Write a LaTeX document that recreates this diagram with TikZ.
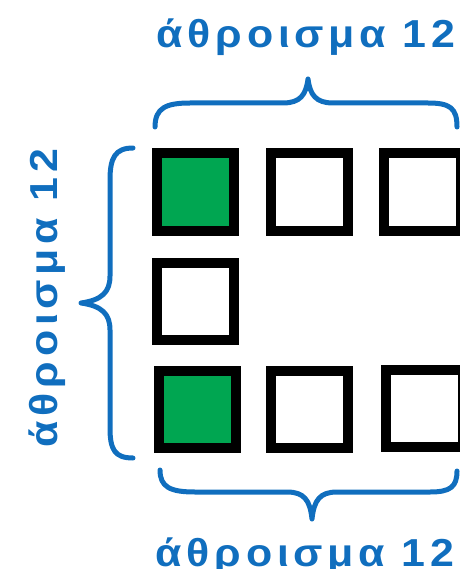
\documentclass[tikz,border=0pt]{standalone}
\usepackage{fontspec}
\newfontfamily\labfont[LetterSpace=11]{Liberation Sans}
\definecolor{bblue}{RGB}{16,110,190}
\definecolor{sgreen}{RGB}{0,166,81}
\tikzset{
  lab/.style={text=bblue, font=\labfont\bfseries\fontsize{39}{42}\selectfont, inner sep=0pt, anchor=base},
  cell/.style={draw=black, line width=10pt, minimum size=77pt, inner sep=0pt, fill=white},
  gcell/.style={cell, fill=sgreen},
  brace/.style={draw=bblue, line width=5pt, line cap=round, line join=round}
}
\begin{document}
\begin{tikzpicture}[x=1pt,y=-1pt]
\useasboundingbox (0,0) rectangle (459,569);
% cells
\node[gcell] (c11) at (195.5,192) {};
\node[cell]  (c12) at (309,192) {};
\node[cell]  (c13) at (422.5,192) {};
\node[cell]  (c21) at (195.5,301) {};
\node[gcell] (c31) at (197,409.5) {};
\node[cell]  (c32) at (309,409.5) {};
\node[cell]  (c33) at (424.5,408) {};
% labels
\node[lab, xscale=1.1] (ltop) at (306,48) {άθροισμα 12};
\node[lab, xscale=1.1] (lbot) at (305,566) {άθροισμα 12};
\node[lab, rotate=90, xscale=1.1] (lleft) at (57,298) {άθροισμα 12};
% top brace
\draw[brace] (155,127) .. controls (155,108) and (166,103) .. (190,103)
  -- (283,103) .. controls (300,103) and (306,95) .. (308,79)
  .. controls (310,95) and (316,103) .. (333,103)
  -- (428,103) .. controls (450,103) and (457,108) .. (457,127);
% bottom brace
\draw[brace] (160,470) .. controls (160,487) and (170,492) .. (195,492)
  -- (287,492) .. controls (304,492) and (310,500) .. (312,519)
  .. controls (314,500) and (320,492) .. (337,492)
  -- (430,492) .. controls (450,492) and (457,487) .. (457,471);
% left brace
\draw[brace] (133,148) .. controls (115,148) and (110,158) .. (110,180)
  -- (110,276) .. controls (110,292) and (102,300) .. (81,303)
  .. controls (102,306) and (110,314) .. (110,330)
  -- (110,428) .. controls (110,450) and (115,458) .. (133,458);
\end{tikzpicture}
\end{document}
